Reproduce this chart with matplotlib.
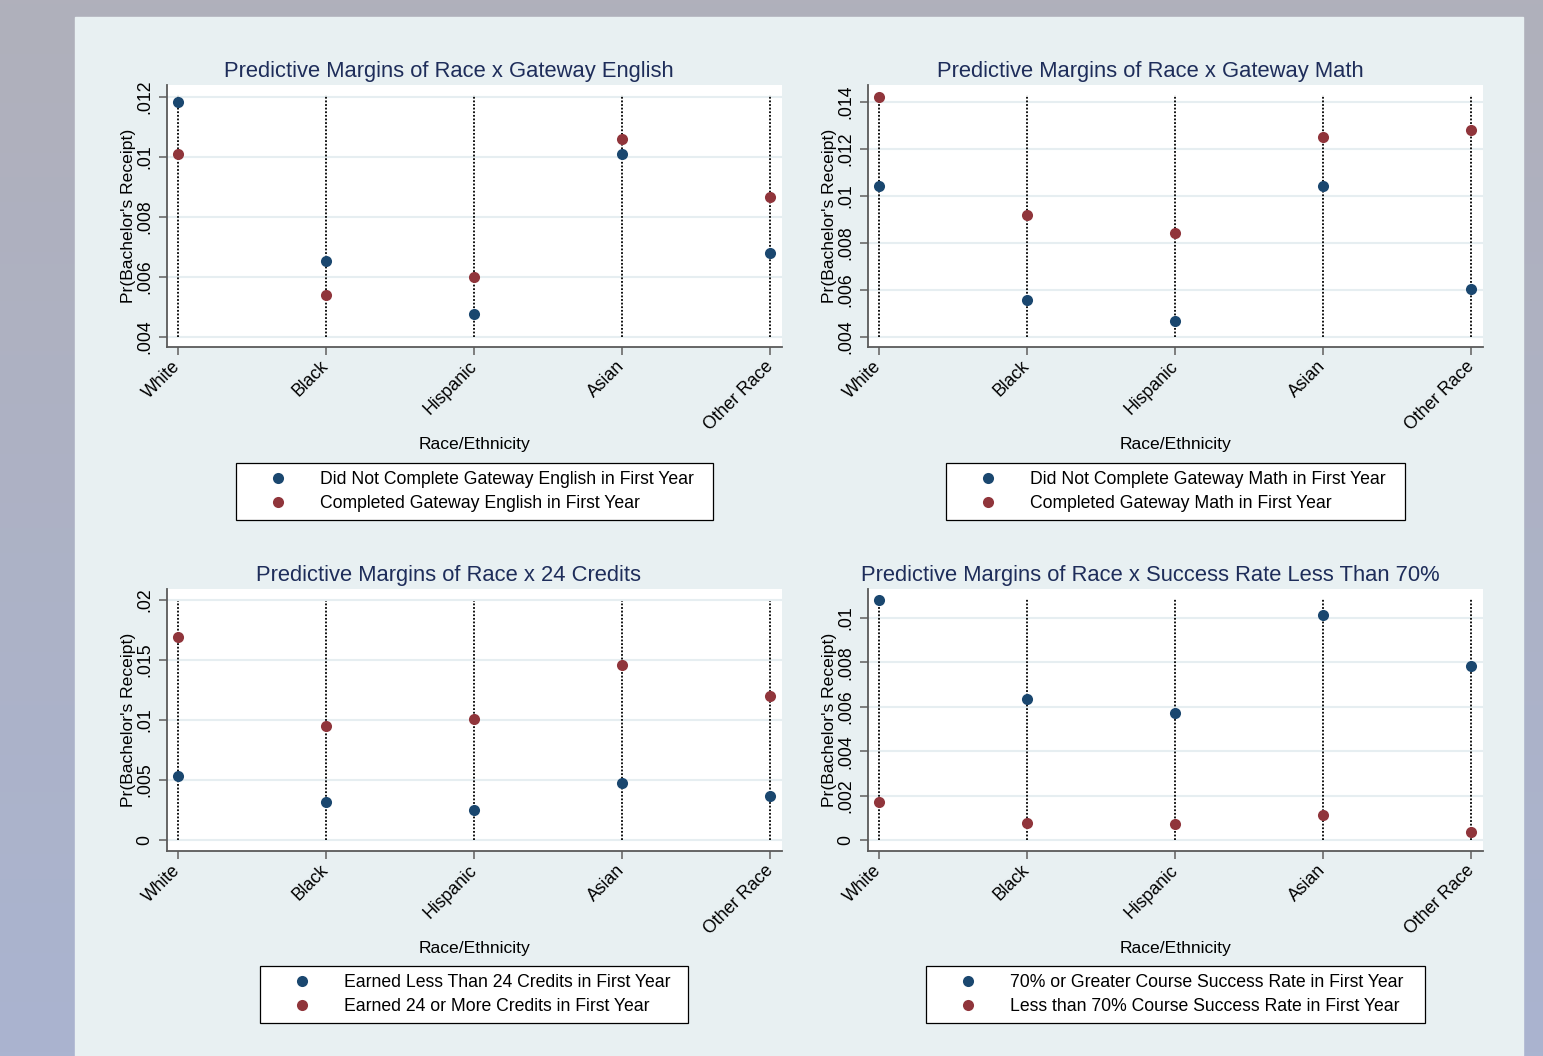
import numpy as np
import matplotlib.pyplot as plt
from matplotlib.patches import Rectangle
from matplotlib.ticker import FuncFormatter

plt.rcParams['font.family'] = ['Liberation Sans', 'DejaVu Sans']

races = ["White", "Black", "Hispanic", "Asian", "Other Race"]

# Predicted probability of bachelor's receipt, by race and first-year milestone
english_not = [0.01183, 0.00653, 0.00477, 0.01010, 0.00680]
english_done = [0.01010, 0.00540, 0.00600, 0.01060, 0.00867]
english_ci = [0.004, 0.01207]

math_not = [0.01043, 0.00557, 0.00468, 0.01043, 0.00604]
math_done = [0.01421, 0.00919, 0.00843, 0.01251, 0.01281]
math_ci = [0.004, 0.0143]

credits_less = [0.00533, 0.00317, 0.00250, 0.00475, 0.00367]
credits_more = [0.01692, 0.00950, 0.01008, 0.01458, 0.01200]
credits_ci = [0.0, 0.0199]

success_high = [0.01081, 0.00635, 0.00572, 0.01014, 0.00784]
success_low = [0.00171, 0.00077, 0.00072, 0.00113, 0.00036]
success_ci = [0.0, 0.01086]

W, H = 1543, 1056
BLUE = "#1a476f"
RED = "#90353b"
NAVY = "#1e2d5a"


def stata_fmt(v, pos):
    s = f"{v:.3f}".rstrip("0").rstrip(".")
    if s.startswith("0."):
        s = s[1:]
    return s


fig = plt.figure(figsize=(W / 100, H / 100), dpi=100)

# slide background with a light content panel on top
bg = fig.add_axes([0, 0, 1, 1], zorder=-10)
top_c = np.array([176, 176, 187]) / 255
bot_c = np.array([170, 180, 208]) / 255
t = np.linspace(0, 1, 256)[:, None, None]
bg.imshow(top_c * (1 - t) + bot_c * t, aspect="auto", extent=[0, 1, 0, 1])
bg.add_patch(Rectangle((75 / W, 0), (1523 - 75) / W, 1 - 17 / H,
                       color="#e8f0f2", transform=bg.transAxes))
bg.set_xlim(0, 1)
bg.set_ylim(0, 1)
bg.axis("off")


def px_axes(left, top, right, bottom):
    return fig.add_axes([left / W, 1 - bottom / H, (right - left) / W, (bottom - top) / H])


def draw_panel(ax, title, title_xy, s1, s2, labels, ci, ylim, yticks, leg_box):
    x = np.arange(len(races))
    ax.set_facecolor("white")
    ax.vlines(x, ci[0], ci[1], colors="black", linestyles=(0, (1, 1)),
              linewidth=1.3, zorder=2)
    ax.plot(x, s1, "o", color=BLUE, markersize=8, markeredgewidth=0,
            label=labels[0], zorder=3)
    ax.plot(x, s2, "o", color=RED, markersize=8, markeredgewidth=0,
            label=labels[1], zorder=3)

    ax.set_xlim(-0.074, 4.08)
    ax.set_ylim(*ylim)
    ax.set_yticks(yticks)
    ax.yaxis.set_major_formatter(FuncFormatter(stata_fmt))
    ax.grid(axis="y", color="#e6eef1", linewidth=1.5, zorder=0)
    ax.set_axisbelow(True)

    for side in ("top", "right"):
        ax.spines[side].set_visible(False)
    for side in ("left", "bottom"):
        ax.spines[side].set_color("#5a5a5a")
        ax.spines[side].set_linewidth(1.3)

    ax.tick_params(axis="both", direction="out", length=6, width=1.2,
                   color="#6a6a6a", labelsize=12.7, labelcolor="black")
    ax.tick_params(axis="y", pad=4, labelrotation=90)
    for lab in ax.get_yticklabels():
        lab.set_va("center")

    ax.set_xticks(x)
    ax.set_xticklabels(races, rotation=45, ha="right", va="center",
                       rotation_mode="anchor")
    ax.tick_params(axis="x", pad=6)

    ax.set_ylabel("Pr(Bachelor's Receipt)", fontsize=12.6, labelpad=0)
    ax.text(0.5, -0.374, "Race/Ethnicity", transform=ax.transAxes,
            ha="center", va="center", fontsize=12.6)

    fig.text(title_xy[0] / W, 1 - title_xy[1] / H, title, ha="center",
             va="center", fontsize=15.8, color=NAVY)

    bx, by, bw = leg_box
    leg = ax.legend(loc="upper left", bbox_to_anchor=(bx, by - 0.3, bw, 0.3),
                    mode="expand", borderaxespad=0, fontsize=12.7,
                    handlelength=3.9, handletextpad=0.4, borderpad=0.45,
                    labelspacing=0.42, fancybox=False, framealpha=1,
                    edgecolor="black", numpoints=1)
    leg.get_frame().set_linewidth(0.9)


ax1 = px_axes(167, 85, 782, 347)
draw_panel(ax1, "Predictive Margins of Race x Gateway English", (449, 72),
           english_not, english_done,
           ["Did Not Complete Gateway English in First Year",
            "Completed Gateway English in First Year"],
           english_ci, (0.003667, 0.0124),
           [0.004, 0.006, 0.008, 0.010, 0.012],
           (0.1122, -0.4427, 0.7756))

ax2 = px_axes(868, 85, 1483, 347)
draw_panel(ax2, "Predictive Margins of Race x Gateway Math", (1150, 72),
           math_not, math_done,
           ["Did Not Complete Gateway Math in First Year",
            "Completed Gateway Math in First Year"],
           math_ci, (0.003574, 0.014723),
           [0.004, 0.006, 0.008, 0.010, 0.012, 0.014],
           (0.1268, -0.4427, 0.7463))

ax3 = px_axes(167, 589, 782, 851)
draw_panel(ax3, "Predictive Margins of Race x 24 Credits", (448, 576),
           credits_less, credits_more,
           ["Earned Less Than 24 Credits in First Year",
            "Earned 24 or More Credits in First Year"],
           credits_ci, (-0.000917, 0.020917),
           [0, 0.005, 0.010, 0.015, 0.020],
           (0.1512, -0.439, 0.696))

ax4 = px_axes(868, 589, 1483, 851)
draw_panel(ax4, "Predictive Margins of Race x Success Rate Less Than 70%", (1150, 576),
           success_high, success_low,
           ["70% or Greater Course Success Rate in First Year",
            "Less than 70% Course Success Rate in First Year"],
           success_ci, (-0.000495, 0.011306),
           [0, 0.002, 0.004, 0.006, 0.008, 0.010],
           (0.0943, -0.439, 0.8114))

fig.savefig("out.png", dpi=100)
